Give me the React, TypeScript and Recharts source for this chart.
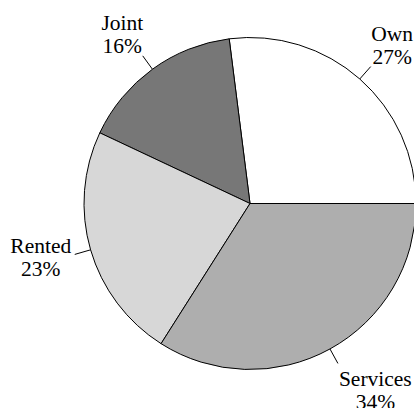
import React from 'react';
import { PieChart, Pie, Cell } from 'recharts';

const categories = ['Own', 'Joint', 'Rented', 'Services'];
const shares = [27, 16, 23, 34];
const colors = ['#ffffff', '#777777', '#d7d7d7', '#aeaeae'];

const data = categories.map((name, i) => ({ name, value: shares[i] }));

const FONT = "'Liberation Serif', 'Times New Roman', Times, serif";
const FONT_SIZE = 21.5;
const LINE_H = 23;

let ctx: CanvasRenderingContext2D | null = null;
function measure(t: string): number {
  if (!ctx) {
    const c = document.createElement('canvas');
    ctx = c.getContext('2d');
  }
  if (!ctx) return t.length * FONT_SIZE * 0.5;
  ctx.font = `${FONT_SIZE}px 'Liberation Serif', serif`;
  return ctx.measureText(t).width;
}

function renderLabel(props: any) {
  const { cx, cy, midAngle, outerRadius, name, value } = props;
  const RAD = Math.PI / 180;
  const c = Math.cos(-midAngle * RAD);
  const s = Math.sin(-midAngle * RAD);
  const x1 = cx + outerRadius * c;
  const y1 = cy + outerRadius * s;
  const x2 = cx + (outerRadius + 16.5) * c;
  const y2 = cy + (outerRadius + 16.5) * s;
  const lines = [String(name), `${value}%`];
  const w = Math.max(...lines.map(measure));
  const up = -s;
  let b1: number;
  let left: number;
  if (up > 0.4) {
    b1 = y2 - 3 - LINE_H;
    left = c > 0 ? x2 + 0.5 : x2 - w + 0.5;
  } else if (up < -0.4) {
    b1 = y2 + 23;
    left = c > 0 ? x2 + 1 : x2 - w - 1;
  } else {
    b1 = y2 - 1;
    left = c > 0 ? x2 + 3.5 : x2 - 3.5 - w;
  }
  const center = left + w / 2;
  return (
    <g>
      <line x1={x1} y1={y1} x2={x2} y2={y2} stroke="#000" strokeWidth={1} />
      <text
        textAnchor="middle"
        fontFamily={FONT}
        fontSize={FONT_SIZE}
        fill="#000"
        style={{ fontFamily: FONT, fontSize: FONT_SIZE }}
      >
        <tspan x={center} y={b1}>{lines[0]}</tspan>
        <tspan x={center} y={b1 + LINE_H}>{lines[1]}</tspan>
      </text>
    </g>
  );
}

export default function App() {
  return (
    <div style={{ position: 'absolute', left: 0, top: 0, width: 414, height: 408, background: '#fff', fontFamily: FONT }}>
      <PieChart width={414} height={408} margin={{ top: 0, right: 0, bottom: 0, left: 0 }}>
        <Pie
          data={data}
          dataKey="value"
          nameKey="name"
          cx={250}
          cy={203.5}
          outerRadius={166}
          innerRadius={0}
          startAngle={0}
          endAngle={360}
          paddingAngle={0}
          stroke="#000"
          strokeWidth={1}
          label={renderLabel}
          labelLine={false}
          isAnimationActive={false}
        >
          {data.map((d, i) => (
            <Cell key={d.name} fill={colors[i]} stroke="#000" strokeWidth={1} />
          ))}
        </Pie>
      </PieChart>
    </div>
  );
}
